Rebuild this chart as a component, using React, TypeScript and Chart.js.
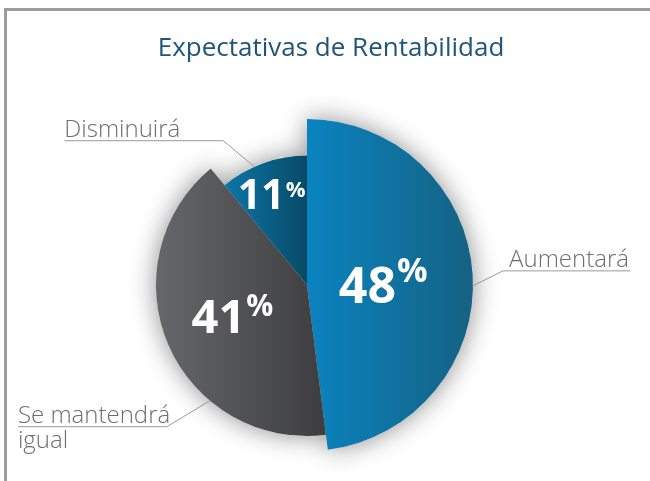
import React, { useEffect, useRef } from "react";
import { Chart, registerables } from "chart.js";

Chart.register(...registerables);

// ---- data ----
const TITLE = "Expectativas de Rentabilidad";
const categories = ["Aumentará", "Se mantendrá igual", "Disminuirá"];
const values = [48, 41, 11];
const valueLabels = ["48", "41", "11"];
const outerLabelLines = [["Aumentará"], ["Se mantendrá", "igual"], ["Disminuirá"]];

// ---- styles ----
const radiusScale = [1, 0.91, 0.78];
const gradientStops = [
  ["#0a83c0", "#156282"],
  ["#66676a", "#3c3c3f"],
  ["#0d7fb3", "#084a67"],
];
const gradientRange = [
  [0, 1],
  [-0.91, 0.15],
  [-0.6, 0],
];
const valueFont = [50, 47, 41];
const pctFont = [34, 30, 22];
const pctRaise = [21, 17, 12];
const labelRadius = [0.46, 0.53, 0.75];
const labelAngleShift = [0, 2, -1.5];
// leader: angle (deg clockwise from top) on arc edge, elbow offset, underline length, side
const leaderAngle = [90.3, 220, 336];
const leaderElbow = [
  [30, -15],
  [-43, 26],
  [-31, -26],
];
const underlineLen = [127, 149, 159];
const labelSide = ["right", "left", "left"];

const FONT = "'Open Sans', 'Noto Sans', sans-serif";

const decorPlugin = {
  id: "decor",
  beforeDraw(chart: any) {
    const { ctx, width } = chart;
    ctx.save();
    ctx.fillStyle = "#9c9c9d";
    ctx.fillRect(4, 8, width - 4, 3);
    ctx.fillRect(4, 8, 3, chart.height - 8);
    ctx.fillStyle = "#1f5577";
    ctx.font = `400 26px ${FONT}`;
    ctx.textAlign = "center";
    ctx.textBaseline = "alphabetic";
    ctx.fillText(TITLE, 331, 56);
    ctx.restore();
  },
  afterDatasetUpdate(chart: any, args: any) {
    const meta = args.meta;
    meta.data.forEach((arc: any, i: number) => {
      arc.outerRadius = arc.outerRadius * radiusScale[i];
    });
  },
  beforeDatasetsDraw(chart: any) {
    const { ctx } = chart;
    const meta = chart.getDatasetMeta(0);
    ctx.save();
    ctx.shadowColor = "rgba(0,0,0,0.45)";
    ctx.shadowBlur = 26;
    ctx.fillStyle = "#ffffff";
    meta.data.forEach((arc: any) => {
      ctx.beginPath();
      ctx.moveTo(arc.x, arc.y);
      ctx.arc(arc.x, arc.y, arc.outerRadius, arc.startAngle, arc.endAngle);
      ctx.closePath();
      ctx.fill();
    });
    ctx.restore();
  },
  afterDatasetsDraw(chart: any) {
    const { ctx } = chart;
    const meta = chart.getDatasetMeta(0);
    ctx.save();
    meta.data.forEach((arc: any, i: number) => {
      const cx = arc.x;
      const cy = arc.y;
      // value label
      const mid = (arc.startAngle + arc.endAngle) / 2 + (labelAngleShift[i] * Math.PI) / 180;
      const d = arc.outerRadius * labelRadius[i] / radiusScale[i] * radiusScale[i];
      const ax = cx + Math.cos(mid) * d;
      const ay = cy + Math.sin(mid) * d;
      const vf = valueFont[i];
      const pf = pctFont[i];
      ctx.fillStyle = "#ffffff";
      ctx.textBaseline = "alphabetic";
      ctx.textAlign = "left";
      ctx.font = `700 ${vf}px ${FONT}`;
      const dw = ctx.measureText(valueLabels[i]).width;
      ctx.font = `700 ${pf}px ${FONT}`;
      const pw = ctx.measureText("%").width;
      const total = dw + 1 + pw;
      const groupH = Math.max(0.714 * vf, pctRaise[i] + 0.714 * pf);
      const base = ay + groupH / 2;
      const left = ax - total / 2;
      ctx.font = `700 ${vf}px ${FONT}`;
      ctx.fillText(valueLabels[i], left, base);
      ctx.font = `700 ${pf}px ${FONT}`;
      ctx.fillText("%", left + dw + 1, base - pctRaise[i]);

      // leader line + outer label
      const la = ((leaderAngle[i] - 90) * Math.PI) / 180;
      const px = cx + Math.cos(la) * arc.outerRadius;
      const py = cy + Math.sin(la) * arc.outerRadius;
      const ex = px + leaderElbow[i][0];
      const ey = py + leaderElbow[i][1];
      const side = labelSide[i];
      const endX = side === "right" ? ex + underlineLen[i] : ex - underlineLen[i];
      ctx.strokeStyle = "#9a9a9c";
      ctx.lineWidth = 1;
      ctx.beginPath();
      ctx.moveTo(px, py);
      ctx.lineTo(ex, ey);
      ctx.lineTo(endX, ey);
      ctx.stroke();
      ctx.fillStyle = "#6d6e71";
      ctx.font = `300 24px ${FONT}`;
      const lines = outerLabelLines[i];
      if (side === "right") {
        ctx.textAlign = "right";
        ctx.fillText(lines[0], endX - 1, ey - 4);
      } else {
        ctx.textAlign = "left";
        ctx.fillText(lines[0], endX, ey - 4);
        for (let k = 1; k < lines.length; k++) {
          ctx.fillText(lines[k], endX, ey - 4 + 25 * k);
        }
      }
    });
    ctx.restore();
  },
};

export default function App() {
  const ref = useRef<HTMLCanvasElement | null>(null);
  useEffect(() => {
    if (!ref.current) return;
    const chart = new Chart(ref.current, {
      type: "pie",
      data: {
        labels: categories,
        datasets: [
          {
            data: values,
            borderWidth: 0,
            backgroundColor: (c: any) => {
              const ch = c.chart;
              const area = ch.chartArea;
              const i = c.dataIndex;
              if (!area || i === undefined) return gradientStops[i ?? 0][0];
              const cx = (area.left + area.right) / 2;
              const r = Math.min(area.right - area.left, area.bottom - area.top) / 2;
              const g = ch.ctx.createLinearGradient(
                cx + gradientRange[i][0] * r,
                0,
                cx + gradientRange[i][1] * r,
                0
              );
              g.addColorStop(0, gradientStops[i][0]);
              g.addColorStop(1, gradientStops[i][1]);
              return g;
            },
          },
        ],
      },
      options: {
        animation: false,
        responsive: true,
        maintainAspectRatio: false,
        events: [],
        layout: { padding: { left: 141, right: 177, top: 119, bottom: 30 } },
        plugins: {
          legend: { display: false },
          tooltip: { enabled: false },
          title: { display: false },
        },
      },
      plugins: [decorPlugin],
    });
    return () => chart.destroy();
  }, []);
  return (
    <div style={{ position: "absolute", left: 0, top: 0, width: 650, height: 481, background: "#ffffff" }}>
      <canvas ref={ref} />
    </div>
  );
}
